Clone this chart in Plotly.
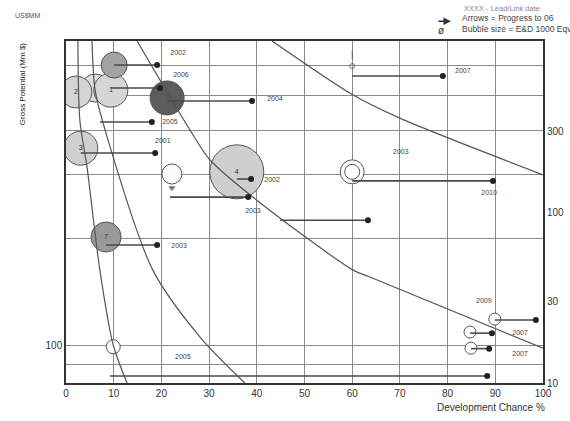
import plotly.graph_objects as go

# ---------------- data ----------------
# bubbles: development chance (%) , potential (right-axis units), bubble size (px diameter)
bubble_x = [6.1, 2.1, 9.4, 10.1, 21.2, 3.1, 22.2, 35.8, 8.4, 9.9, 89.9, 84.7, 84.9, 60.0]
bubble_y = [536, 508, 521, 731, 469, 238, 168, 173, 71.8, 16.3, 23.7, 19.9, 16.0, 173]
bubble_size = [28, 32, 34, 26, 34, 34, 20, 54, 30, 14, 12, 12, 12, 24]
bubble_fill = ["#dedede", "#d4d4d4", "#d6d6d6", "#a3a3a3", "#5c5c5c", "#d0d0d0", "#fafafa",
               "#cfcfcf", "#999999", "#ffffff", "#ffffff", "#ffffff", "#ffffff", "#ffffff"]
bubble_tag = ["", "2", "1", "", "", "3", "", "4", "7", "", "", "", "", ""]

# progress arrows: start chance, end chance, potential
arrow_x0 = [10.1, 9.4, 21.2, 7.1, 3.1, 21.8, 35.8, 60.0, 44.9, 8.4, 60.0, 89.9, 84.7, 84.9, 9.2]
arrow_x1 = [19.1, 19.7, 39.0, 18.0, 18.7, 38.2, 38.8, 89.5, 63.3, 19.1, 79.0, 98.5, 89.3, 88.7, 88.3]
arrow_y = [731, 536, 450, 339, 223, 123, 157, 153, 90, 64.4, 631, 23.4, 19.6, 15.9, 11.0]

# year labels
year_text = ["2002", "2006", "2004", "2005", "2001", "2003", "2002", "2010", "2003",
             "2007", "2009", "2007", "2007", "2003", "2005"]
year_x = [23.5, 24.1, 43.8, 21.8, 20.3, 39.2, 43.2, 88.7, 23.7, 83.2, 87.6, 95.2, 95.2, 70.2, 24.5]
year_y = [859, 638, 463, 339, 262, 102, 155, 130, 63, 675, 30.3, 19.6, 14.8, 226, 14.2]

# iso-value curves
curve1_x = [2.5, 2.9, 4.4, 7.1, 9.9, 12.8]
curve1_y = [1012, 348, 185, 45.9, 16.7, 10]
curve2_x = [5.45, 6.1, 8.2, 18.2, 28.1, 37.5]
curve2_y = [1012, 521, 304, 45.9, 18.6, 10]
curve3_x = [14.9, 26.0, 30.2, 40.0, 60.2, 63.7, 100]
curve3_y = [1012, 304, 203, 118, 45.9, 41.8, 16.0]
curve4_x = [43.2, 60.2, 70.0, 100]
curve4_y = [1012, 488, 357, 166]

x_ticks = [0, 10, 20, 30, 40, 50, 60, 70, 80, 90, 100]
right_ticks = [10, 30, 100, 300]
left_grid = [77.6, 100, 429, 1006, 1842, 2957, 4430]
left_grid_text = ["", "100", "", "", "", "", ""]

# ---------------- figure ----------------
fig = go.Figure()

# invisible anchor so the left (gross potential) axis is drawn with its grid
fig.add_trace(go.Scatter(
    x=[x_ticks[0]] * len(left_grid), y=left_grid, yaxis="y", mode="markers",
    marker=dict(size=1, opacity=0), hoverinfo="skip", showlegend=False))

# bubbles
fig.add_trace(go.Scatter(
    x=bubble_x, y=bubble_y, yaxis="y2", mode="markers+text",
    text=bubble_tag, textposition="middle center",
    textfont=dict(size=7, color="#333"),
    marker=dict(size=bubble_size, color=bubble_fill, opacity=1,
                line=dict(color="#555", width=1)),
    hoverinfo="skip", showlegend=False))
# inner ring of the concentric bubble
fig.add_trace(go.Scatter(
    x=[bubble_x[13]], y=[bubble_y[13]], yaxis="y2", mode="markers",
    marker=dict(size=15, color="#ffffff", line=dict(color="#555", width=1)),
    hoverinfo="skip", showlegend=False))

# curves
for cx, cy in [(curve1_x, curve1_y), (curve2_x, curve2_y),
               (curve3_x, curve3_y), (curve4_x, curve4_y)]:
    fig.add_trace(go.Scatter(
        x=cx, y=cy, yaxis="y2", mode="lines",
        line=dict(color="#555", width=1.2, shape="spline", smoothing=0.8),
        hoverinfo="skip", showlegend=False))

# arrows
for x0, x1, y in zip(arrow_x0, arrow_x1, arrow_y):
    fig.add_trace(go.Scatter(
        x=[x0, x1], y=[y, y], yaxis="y2", mode="lines",
        line=dict(color="#4a4a4a", width=1.6),
        hoverinfo="skip", showlegend=False))
fig.add_trace(go.Scatter(
    x=arrow_x1, y=arrow_y, yaxis="y2", mode="markers",
    marker=dict(size=6, color="#222"),
    hoverinfo="skip", showlegend=False))

# small markers
fig.add_trace(go.Scatter(
    x=[60.0, 60.0, 22.2], y=[837, 721, 139], yaxis="y2", mode="markers",
    marker=dict(symbol=["line-ns", "circle-open", "triangle-down"], size=[6, 5, 5],
                color="#444", line=dict(color="#444", width=1)),
    hoverinfo="skip", showlegend=False))

# year labels
fig.add_trace(go.Scatter(
    x=year_x, y=year_y, yaxis="y2", mode="text", text=year_text,
    textfont=dict(size=7, color="#444", family="Liberation Sans"),
    hoverinfo="skip", showlegend=False))

fig.update_layout(
    width=570, height=421,
    margin=dict(l=66, r=27, t=41, b=38, autoexpand=False),
    paper_bgcolor="white", plot_bgcolor="white",
    font=dict(family="Liberation Sans", size=10, color="#444"),
    xaxis=dict(range=[0, 100], tickvals=x_ticks, showgrid=True,
               gridcolor="#8a8a8a", gridwidth=1, zeroline=False,
               showline=True, linecolor="#333", linewidth=1.5, mirror=True,
               ticks="", tickfont=dict(size=10, color="#333"), automargin=False),
    yaxis=dict(type="log", range=[1.783, 3.788], tickvals=left_grid,
               ticktext=left_grid_text, showgrid=True, gridcolor="#8a8a8a",
               gridwidth=1, zeroline=False, showline=True, linecolor="#333",
               linewidth=1.5, ticks="", tickfont=dict(size=10, color="#333"),
               automargin=False),
    yaxis2=dict(type="log", range=[1.0, 3.005], overlaying="y", side="right",
                tickvals=right_ticks, ticktext=[str(v) for v in right_ticks],
                showgrid=False, zeroline=False, showline=True, linecolor="#333",
                linewidth=2, ticks="", tickfont=dict(size=10, color="#333"),
                automargin=False),
)

def note(text, x, y, size, color="#444", xanchor="left", angle=0):
    return dict(text=text, x=x, y=y, xref="paper", yref="paper", showarrow=False,
                xanchor=xanchor, yanchor="middle", textangle=angle,
                font=dict(size=size, color=color))

anns = [
    note("US$MM", -0.08, 1.076, 7, "#555", "center"),
    note("Gross Potential (Mm $)", -0.092, 0.874, 8, "#222", "center", -90),
    note("Development Chance %", 0.89, -0.073, 10, "#333", "center"),
    note("XXXX - Lead/Link date", 0.831, 1.096, 7.5, "#888"),
    note("Arrows = Progress to 06", 0.827, 1.066, 8.5, "#444"),
    note("Bubble size = E&D 1000 Eqv", 0.827, 1.034, 8.5, "#444"),
    dict(text="", x=0.807, y=1.058, xref="paper", yref="paper", showarrow=True,
         ax=-14, ay=0, arrowhead=2, arrowsize=1, arrowwidth=1.5, arrowcolor="#333"),
    note("ø", 0.786, 1.032, 10, "#333", "center"),
]
fig.update_layout(annotations=anns)

fig.write_html("out.html", config={"displayModeBar": False},
               post_script="document.body.style.margin='0';document.body.style.padding='0';")
